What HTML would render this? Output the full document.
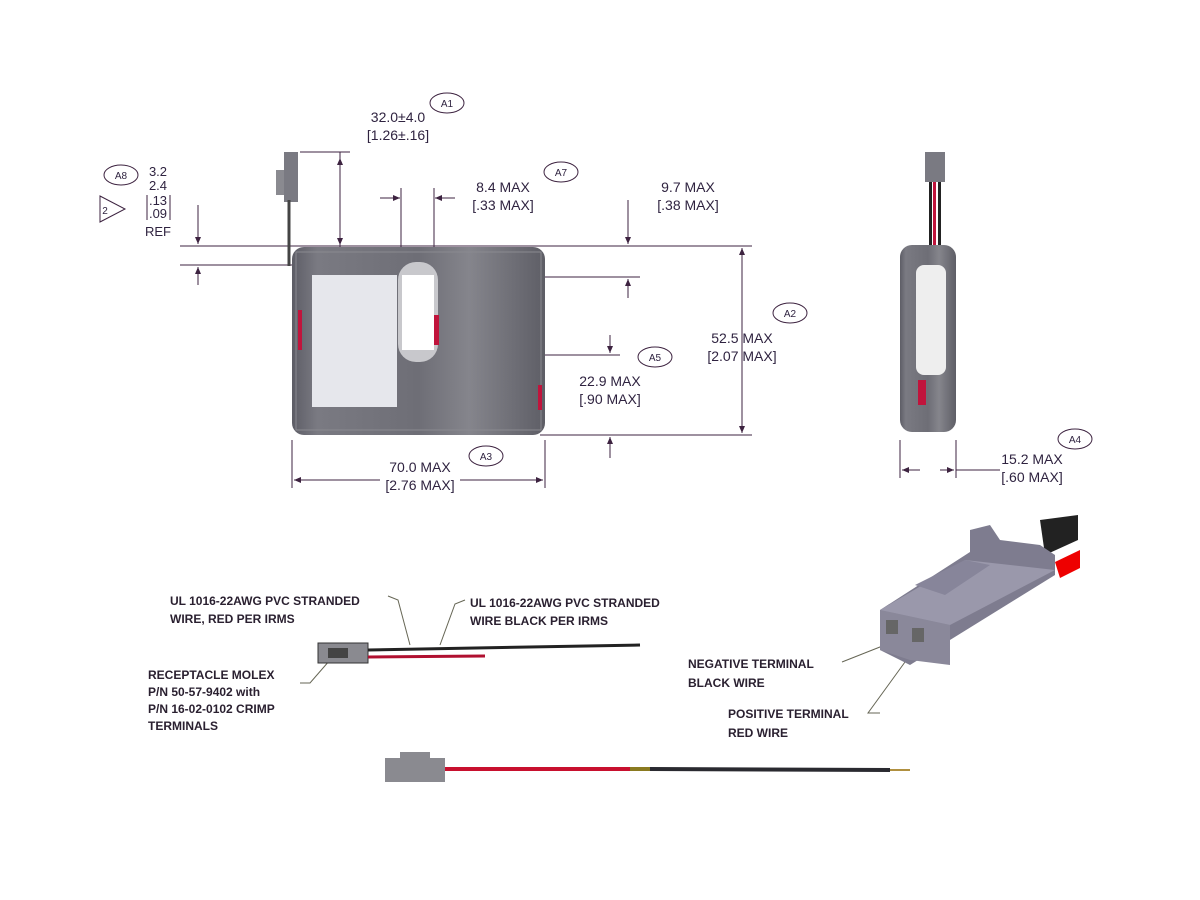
<!DOCTYPE html>
<html><head><style>body{margin:0;background:#fff}svg{display:block}</style></head><body>
<svg width="1200" height="900" viewBox="0 0 1200 900" xmlns="http://www.w3.org/2000/svg" font-family="Liberation Sans, sans-serif">
<defs>
<marker id="ar" markerWidth="8" markerHeight="8" refX="7" refY="3" orient="auto"><path d="M0,0 L7,3 L0,6z" fill="#3d2340"/></marker>
<linearGradient id="bg" x1="0" x2="1"><stop offset="0" stop-color="#5d5d66"/><stop offset=".1" stop-color="#7a7a82"/><stop offset=".5" stop-color="#6e6e76"/><stop offset=".7" stop-color="#85858c"/><stop offset="1" stop-color="#5e5e66"/></linearGradient>
</defs>
<g stroke="#3d2340" stroke-width="1" fill="none">
<line x1="300" y1="152" x2="350" y2="152"/>
<line x1="340" y1="152" x2="340" y2="245" marker-end="url(#ar)"/>
<line x1="340" y1="250" x2="340" y2="158" marker-end="url(#ar)"/>
<line x1="401" y1="188" x2="401" y2="258"/><line x1="434" y1="188" x2="434" y2="258"/>
<line x1="380" y1="198" x2="400" y2="198" marker-end="url(#ar)"/>
<line x1="455" y1="198" x2="435" y2="198" marker-end="url(#ar)"/>
<line x1="180" y1="246" x2="752" y2="246"/>
<line x1="180" y1="265" x2="292" y2="265"/>
<line x1="198" y1="205" x2="198" y2="244" marker-end="url(#ar)"/>
<line x1="198" y1="285" x2="198" y2="267" marker-end="url(#ar)"/>
<line x1="628" y1="200" x2="628" y2="244" marker-end="url(#ar)"/>
<line x1="440" y1="277" x2="640" y2="277"/>
<line x1="628" y1="298" x2="628" y2="279" marker-end="url(#ar)"/>
<line x1="440" y1="355" x2="620" y2="355"/>
<line x1="610" y1="335" x2="610" y2="353" marker-end="url(#ar)"/>
<line x1="540" y1="435" x2="752" y2="435"/>
<line x1="610" y1="458" x2="610" y2="437" marker-end="url(#ar)"/>
<line x1="742" y1="340" x2="742" y2="248" marker-end="url(#ar)"/>
<line x1="742" y1="340" x2="742" y2="433" marker-end="url(#ar)"/>
<line x1="292" y1="440" x2="292" y2="488"/><line x1="545" y1="440" x2="545" y2="488"/>
<line x1="380" y1="480" x2="294" y2="480" marker-end="url(#ar)"/>
<line x1="460" y1="480" x2="543" y2="480" marker-end="url(#ar)"/>
<line x1="900" y1="440" x2="900" y2="478"/><line x1="956" y1="440" x2="956" y2="478"/>
<line x1="920" y1="470" x2="902" y2="470" marker-end="url(#ar)"/>
<line x1="940" y1="470" x2="954" y2="470" marker-end="url(#ar)"/>
<line x1="956" y1="470" x2="1000" y2="470"/>
<ellipse cx="447" cy="103" rx="17" ry="10"/>
<ellipse cx="561" cy="172" rx="17" ry="10"/>
<ellipse cx="121" cy="175" rx="17" ry="10"/>
<path d="M100,196 L100,222 L125,209z"/>
<ellipse cx="790" cy="313" rx="17" ry="10"/>
<ellipse cx="655" cy="357" rx="17" ry="10"/>
<ellipse cx="486" cy="456" rx="17" ry="10"/>
<ellipse cx="1075" cy="439" rx="17" ry="10"/>
<path d="M388,596 L398,600 L410,645" stroke="#665"/>
<path d="M465,600 L455,604 L440,645" stroke="#665"/>
<path d="M300,683 L310,683 L330,660" stroke="#665"/>
<path d="M842,662 L885,645" stroke="#665"/>
<path d="M880,713 L868,713 L905,662" stroke="#665"/>
</g>
<g fill="#2f2340" font-size="14" text-anchor="middle">
<text x="398" y="122">32.0±4.0</text><text x="398" y="140">[1.26±.16]</text>
<text x="447" y="107" font-size="10">A1</text>
<text x="503" y="192">8.4 MAX</text><text x="503" y="210">[.33 MAX]</text>
<text x="561" y="176" font-size="10">A7</text>
<text x="688" y="192">9.7 MAX</text><text x="688" y="210">[.38 MAX]</text>
<text x="121" y="179" font-size="10">A8</text>
<text x="105" y="214" font-size="10">2</text>
<text x="158" y="176" font-size="13">3.2</text><text x="158" y="190" font-size="13">2.4</text><text x="158" y="205" font-size="13">.13</text><text x="158" y="218" font-size="13">.09</text><text x="158" y="236" font-size="13">REF</text>
<path d="M147,195 v25 M170,195 v25" stroke="#3d2340" fill="none"/>
<text x="790" y="317" font-size="10">A2</text>
<text x="742" y="343">52.5 MAX</text><text x="742" y="361">[2.07 MAX]</text>
<text x="655" y="361" font-size="10">A5</text>
<text x="610" y="386">22.9 MAX</text><text x="610" y="404">[.90 MAX]</text>
<text x="486" y="460" font-size="10">A3</text>
<text x="420" y="472">70.0 MAX</text><text x="420" y="490">[2.76 MAX]</text>
<text x="1075" y="443" font-size="10">A4</text>
<text x="1032" y="464">15.2 MAX</text><text x="1032" y="482">[.60 MAX]</text>
</g>
<g fill="#2a2030" font-size="12" font-weight="bold">
<text x="170" y="605">UL 1016-22AWG PVC STRANDED</text><text x="170" y="623">WIRE, RED PER IRMS</text>
<text x="470" y="607">UL 1016-22AWG PVC STRANDED</text><text x="470" y="625">WIRE BLACK PER IRMS</text>
<text x="148" y="679">RECEPTACLE MOLEX</text><text x="148" y="696">P/N 50-57-9402 with</text><text x="148" y="713">P/N 16-02-0102 CRIMP</text><text x="148" y="730">TERMINALS</text>
<text x="688" y="668">NEGATIVE TERMINAL</text><text x="688" y="687">BLACK WIRE</text>
<text x="728" y="718">POSITIVE TERMINAL</text><text x="728" y="737">RED WIRE</text>
</g>
<!-- battery front -->
<rect x="284" y="152" width="14" height="50" fill="#7a7a82"/>
<rect x="276" y="170" width="8" height="25" fill="#8a8a90"/>
<line x1="289" y1="200" x2="289" y2="266" stroke="#444" stroke-width="3"/>
<rect x="292" y="247" width="253" height="188" rx="12" fill="url(#bg)"/>
<rect x="296" y="252" width="245" height="178" fill="none" stroke="#8a8a90"/>
<rect x="312" y="275" width="85" height="132" fill="#e6e7ec"/>
<rect x="398" y="262" width="40" height="100" rx="18" fill="#c8c8cc"/>
<rect x="402" y="275" width="32" height="75" fill="#fff"/>
<rect x="434" y="315" width="5" height="30" fill="#c0143c"/>
<rect x="298" y="310" width="4" height="40" fill="#c0143c"/>
<rect x="538" y="385" width="4" height="25" fill="#c0143c"/>
<!-- side view -->
<rect x="925" y="152" width="20" height="30" fill="#7a7a82"/>
<rect x="929" y="182" width="3" height="65" fill="#222"/><rect x="933" y="182" width="3" height="65" fill="#c0143c"/><rect x="938" y="182" width="3" height="65" fill="#222"/>
<rect x="900" y="245" width="56" height="187" rx="12" fill="url(#bg)"/>
<rect x="916" y="265" width="30" height="110" rx="8" fill="#eee"/>
<rect x="918" y="380" width="8" height="25" fill="#c0143c"/>
<!-- connector 3D -->
<path d="M1040,520 L1078,515 L1078,540 L1045,555z" fill="#222"/>
<path d="M1055,562 L1080,550 L1080,568 L1060,578z" fill="#e00"/>
<polygon points="880,610 970,552 970,530 990,525 1000,540 1040,545 1055,555 1055,575 950,640 910,665 880,650" fill="#7e7c8f"/>
<polygon points="880,610 950,625 950,665 910,660 880,650" fill="#8a889a"/>
<polygon points="880,610 965,560 1055,570 950,625" fill="#9a98ab"/>
<polygon points="915,585 965,560 990,565 945,595" fill="#87859a"/>
<rect x="886" y="620" width="12" height="14" fill="#666"/><rect x="912" y="628" width="12" height="14" fill="#666"/>
<!-- small connector top -->
<rect x="318" y="643" width="50" height="20" fill="#8a8a90" stroke="#333"/>
<rect x="328" y="648" width="20" height="10" fill="#444"/>
<line x1="368" y1="650" x2="640" y2="645" stroke="#222" stroke-width="3"/>
<line x1="368" y1="657" x2="485" y2="656" stroke="#b01030" stroke-width="3"/>
<!-- bottom cable -->
<rect x="385" y="758" width="60" height="24" fill="#8a8a90"/>
<rect x="400" y="752" width="30" height="8" fill="#8a8a90"/>
<line x1="445" y1="769" x2="630" y2="769" stroke="#c8102e" stroke-width="4"/>
<line x1="630" y1="769" x2="650" y2="769" stroke="#8a7a20" stroke-width="4"/>
<line x1="650" y1="769" x2="890" y2="770" stroke="#2a2a30" stroke-width="4"/>
<line x1="890" y1="770" x2="910" y2="770" stroke="#b09040" stroke-width="2"/>
</svg>
</body></html>
